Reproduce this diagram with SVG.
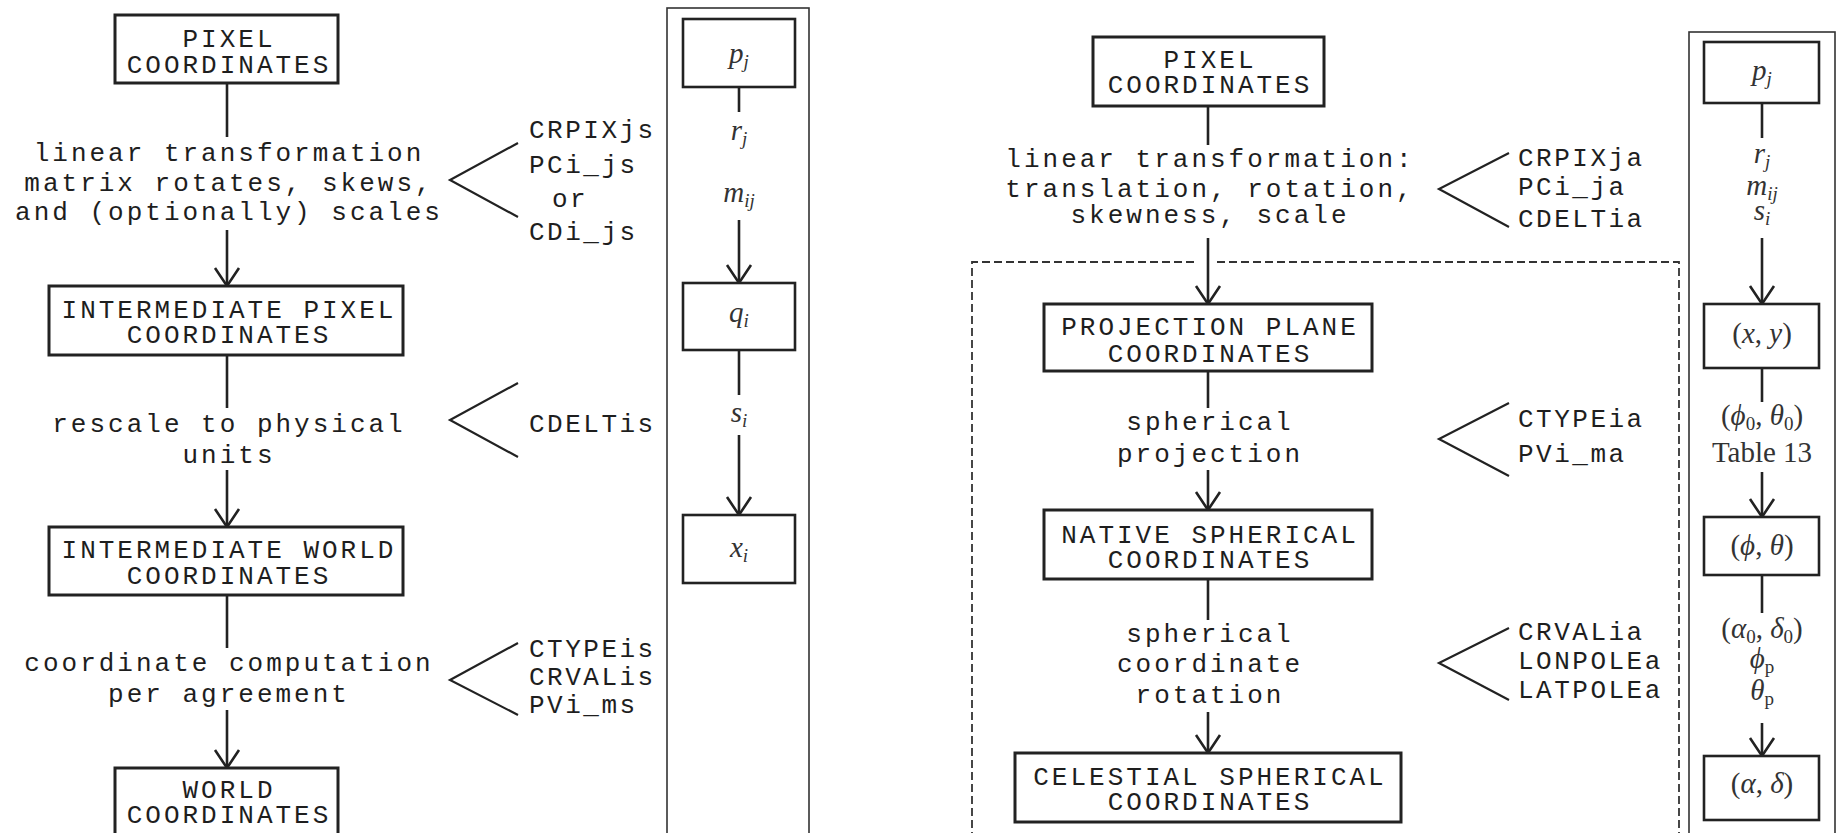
<svg xmlns="http://www.w3.org/2000/svg" width="1837" height="833" viewBox="0 0 1837 833">
<style>
.bg{fill:#fff}
.box{fill:#fff;stroke:#222;stroke-width:3}
.mbox{fill:#fff;stroke:#222;stroke-width:2.6}
.col{fill:none;stroke:#333;stroke-width:1.6}
.dash{fill:none;stroke:#333;stroke-width:1.8;stroke-dasharray:8 4}
.ln{fill:none;stroke:#222;stroke-width:2.6}
.br{fill:none;stroke:#222;stroke-width:2.2}
.t{font-family:"Liberation Mono","Courier New",monospace;font-size:26px;letter-spacing:3px;fill:#1e1e1e;text-anchor:middle}
.k{font-family:"Liberation Mono","Courier New",monospace;font-size:26px;letter-spacing:2.5px;fill:#1e1e1e}
.m{font-family:"Liberation Serif","Times New Roman",serif;font-style:italic;font-size:29px;fill:#333;text-anchor:middle}
.r{font-family:"Liberation Serif","Times New Roman",serif;font-size:29px;fill:#333;text-anchor:middle}
.s{font-size:19px}
.u{font-style:normal}
</style>
<defs>
<marker id="ah" markerUnits="userSpaceOnUse" markerWidth="24" markerHeight="28" viewBox="-1 -1 22 28" refX="18" refY="12" orient="auto" overflow="visible">
<path d="M0,0 L18,12 L0,24" fill="none" stroke="#222" stroke-width="2.6"/>
</marker>
</defs>
<rect class="bg" x="0" y="0" width="1837" height="833"/>

<!-- frames -->
<g id="frames">
<rect class="col" x="667" y="8" width="142" height="900"/>
<rect class="col" x="1689" y="32" width="146" height="900"/>
<path class="dash" d="M972,900 L972,262 L1198,262 M1217,262 L1679,262 L1679,900"/>
</g>

<!-- connectors -->
<g id="connectors">
<line class="ln" x1="227" y1="83" x2="227" y2="137"/>
<line class="ln" x1="227" y1="230" x2="227" y2="286" marker-end="url(#ah)"/>
<line class="ln" x1="227" y1="355" x2="227" y2="408"/>
<line class="ln" x1="227" y1="470" x2="227" y2="527" marker-end="url(#ah)"/>
<line class="ln" x1="227" y1="595" x2="227" y2="648"/>
<line class="ln" x1="227" y1="710" x2="227" y2="768" marker-end="url(#ah)"/>

<line class="ln" x1="1208" y1="106" x2="1208" y2="145"/>
<line class="ln" x1="1208" y1="238" x2="1208" y2="304" marker-end="url(#ah)"/>
<line class="ln" x1="1208" y1="371" x2="1208" y2="408"/>
<line class="ln" x1="1208" y1="470" x2="1208" y2="510" marker-end="url(#ah)"/>
<line class="ln" x1="1208" y1="579" x2="1208" y2="620"/>
<line class="ln" x1="1208" y1="712" x2="1208" y2="753" marker-end="url(#ah)"/>

<line class="ln" x1="739" y1="87" x2="739" y2="112"/>
<line class="ln" x1="739" y1="220" x2="739" y2="283" marker-end="url(#ah)"/>
<line class="ln" x1="739" y1="350" x2="739" y2="395"/>
<line class="ln" x1="739" y1="435" x2="739" y2="515" marker-end="url(#ah)"/>

<line class="ln" x1="1762" y1="103" x2="1762" y2="138"/>
<line class="ln" x1="1762" y1="238" x2="1762" y2="304" marker-end="url(#ah)"/>
<line class="ln" x1="1762" y1="368" x2="1762" y2="402"/>
<line class="ln" x1="1762" y1="472" x2="1762" y2="517" marker-end="url(#ah)"/>
<line class="ln" x1="1762" y1="575" x2="1762" y2="613"/>
<line class="ln" x1="1762" y1="723" x2="1762" y2="756" marker-end="url(#ah)"/>

<polyline class="br" points="518,143 450,180 518,217"/>
<polyline class="br" points="518,383 450,420 518,457"/>
<polyline class="br" points="518,643 450,680 518,715"/>
<polyline class="br" points="1509,153 1439,189 1509,227"/>
<polyline class="br" points="1509,403 1439,439 1509,476"/>
<polyline class="br" points="1509,628 1439,663 1509,700"/>
</g>

<!-- left panel nodes -->
<g id="l-pixel">
<rect class="box" x="115" y="15" width="223" height="68"/>
<text class="t" x="229" y="47">PIXEL</text>
<text class="t" x="229" y="73">COORDINATES</text>
</g>
<g id="l-linear">
<text class="t" x="229" y="161">linear transformation</text>
<text class="t" x="229" y="191">matrix rotates, skews,</text>
<text class="t" x="229" y="220">and (optionally) scales</text>
</g>
<g id="l-interpix">
<rect class="box" x="49" y="286" width="354" height="69"/>
<text class="t" x="229" y="318">INTERMEDIATE PIXEL</text>
<text class="t" x="229" y="343">COORDINATES</text>
</g>
<g id="l-rescale">
<text class="t" x="229" y="432">rescale to physical</text>
<text class="t" x="229" y="463">units</text>
</g>
<g id="l-interworld">
<rect class="box" x="49" y="527" width="354" height="68"/>
<text class="t" x="229" y="558">INTERMEDIATE WORLD</text>
<text class="t" x="229" y="584">COORDINATES</text>
</g>
<g id="l-coordcomp">
<text class="t" x="229" y="671">coordinate computation</text>
<text class="t" x="229" y="702">per agreement</text>
</g>
<g id="l-world">
<rect class="box" x="115" y="768" width="223" height="90"/>
<text class="t" x="229" y="798">WORLD</text>
<text class="t" x="229" y="823">COORDINATES</text>
</g>
<g id="l-kw1">
<text class="k" x="529" y="138">CRPIXjs</text>
<text class="k" x="529" y="173">PCi_js</text>
<text class="k" x="552" y="207">or</text>
<text class="k" x="529" y="240">CDi_js</text>
</g>
<g id="l-kw2">
<text class="k" x="529" y="432">CDELTis</text>
</g>
<g id="l-kw3">
<text class="k" x="529" y="657">CTYPEis</text>
<text class="k" x="529" y="685">CRVALis</text>
<text class="k" x="529" y="713">PVi_ms</text>
</g>

<!-- left math column -->
<g id="l-pj">
<rect class="mbox" x="683" y="19" width="112" height="68"/>
<text class="m" x="739" y="63">p<tspan class="s" dy="5">j</tspan></text>
</g>
<g id="l-rm">
<text class="m" x="739" y="140">r<tspan class="s" dy="5">j</tspan></text>
<text class="m" x="739" y="202">m<tspan class="s" dy="5">ij</tspan></text>
</g>
<g id="l-qi">
<rect class="mbox" x="683" y="283" width="112" height="67"/>
<text class="m" x="739" y="322">q<tspan class="s" dy="5">i</tspan></text>
</g>
<g id="l-si">
<text class="m" x="739" y="422">s<tspan class="s" dy="5">i</tspan></text>
</g>
<g id="l-xi">
<rect class="mbox" x="683" y="515" width="112" height="68"/>
<text class="m" x="739" y="557">x<tspan class="s" dy="5">i</tspan></text>
</g>

<!-- right panel nodes -->
<g id="r-pixel">
<rect class="box" x="1093" y="37" width="231" height="69"/>
<text class="t" x="1210" y="68">PIXEL</text>
<text class="t" x="1210" y="93">COORDINATES</text>
</g>
<g id="r-linear">
<text class="t" x="1210" y="167">linear transformation:</text>
<text class="t" x="1210" y="197">translation, rotation,</text>
<text class="t" x="1210" y="223">skewness, scale</text>
</g>
<g id="r-proj">
<rect class="box" x="1044" y="304" width="328" height="67"/>
<text class="t" x="1210" y="335">PROJECTION PLANE</text>
<text class="t" x="1210" y="362">COORDINATES</text>
</g>
<g id="r-sphproj">
<text class="t" x="1210" y="430">spherical</text>
<text class="t" x="1210" y="462">projection</text>
</g>
<g id="r-native">
<rect class="box" x="1044" y="510" width="328" height="69"/>
<text class="t" x="1210" y="543">NATIVE SPHERICAL</text>
<text class="t" x="1210" y="568">COORDINATES</text>
</g>
<g id="r-rot">
<text class="t" x="1210" y="642">spherical</text>
<text class="t" x="1210" y="672">coordinate</text>
<text class="t" x="1210" y="703">rotation</text>
</g>
<g id="r-celestial">
<rect class="box" x="1015" y="753" width="386" height="69"/>
<text class="t" x="1210" y="785">CELESTIAL SPHERICAL</text>
<text class="t" x="1210" y="810">COORDINATES</text>
</g>
<g id="r-kw1">
<text class="k" x="1518" y="166">CRPIXja</text>
<text class="k" x="1518" y="195">PCi_ja</text>
<text class="k" x="1518" y="227">CDELTia</text>
</g>
<g id="r-kw2">
<text class="k" x="1518" y="427">CTYPEia</text>
<text class="k" x="1518" y="462">PVi_ma</text>
</g>
<g id="r-kw3">
<text class="k" x="1518" y="640">CRVALia</text>
<text class="k" x="1518" y="669">LONPOLEa</text>
<text class="k" x="1518" y="698">LATPOLEa</text>
</g>

<!-- right math column -->
<g id="r-pj">
<rect class="mbox" x="1704" y="42" width="115" height="61"/>
<text class="m" x="1762" y="80">p<tspan class="s" dy="5">j</tspan></text>
</g>
<g id="r-rms">
<text class="m" x="1762" y="163">r<tspan class="s" dy="5">j</tspan></text>
<text class="m" x="1762" y="195">m<tspan class="s" dy="5">ij</tspan></text>
<text class="m" x="1762" y="220">s<tspan class="s" dy="5">i</tspan></text>
</g>
<g id="r-xy">
<rect class="mbox" x="1704" y="304" width="115" height="64"/>
<text class="m" x="1762" y="343"><tspan class="u">(</tspan>x<tspan class="u">, </tspan>y<tspan class="u">)</tspan></text>
</g>
<g id="r-phi0">
<text class="m" x="1762" y="425"><tspan class="u">(</tspan>ϕ<tspan class="s u" dy="5">0</tspan><tspan class="u" dy="-5">, </tspan>θ<tspan class="s u" dy="5">0</tspan><tspan class="u" dy="-5">)</tspan></text>
<text class="r" x="1762" y="462">Table 13</text>
</g>
<g id="r-phitheta">
<rect class="mbox" x="1704" y="517" width="115" height="58"/>
<text class="m" x="1762" y="555"><tspan class="u">(</tspan>ϕ<tspan class="u">, </tspan>θ<tspan class="u">)</tspan></text>
</g>
<g id="r-alpha0">
<text class="m" x="1762" y="638"><tspan class="u">(</tspan>α<tspan class="s u" dy="5">0</tspan><tspan class="u" dy="-5">, </tspan>δ<tspan class="s u" dy="5">0</tspan><tspan class="u" dy="-5">)</tspan></text>
<text class="m" x="1762" y="668">ϕ<tspan class="s u" dy="5">p</tspan></text>
<text class="m" x="1762" y="700">θ<tspan class="s u" dy="5">p</tspan></text>
</g>
<g id="r-alphadelta">
<rect class="mbox" x="1704" y="756" width="115" height="64"/>
<text class="m" x="1762" y="793"><tspan class="u">(</tspan>α<tspan class="u">, </tspan>δ<tspan class="u">)</tspan></text>
</g>
</svg>
